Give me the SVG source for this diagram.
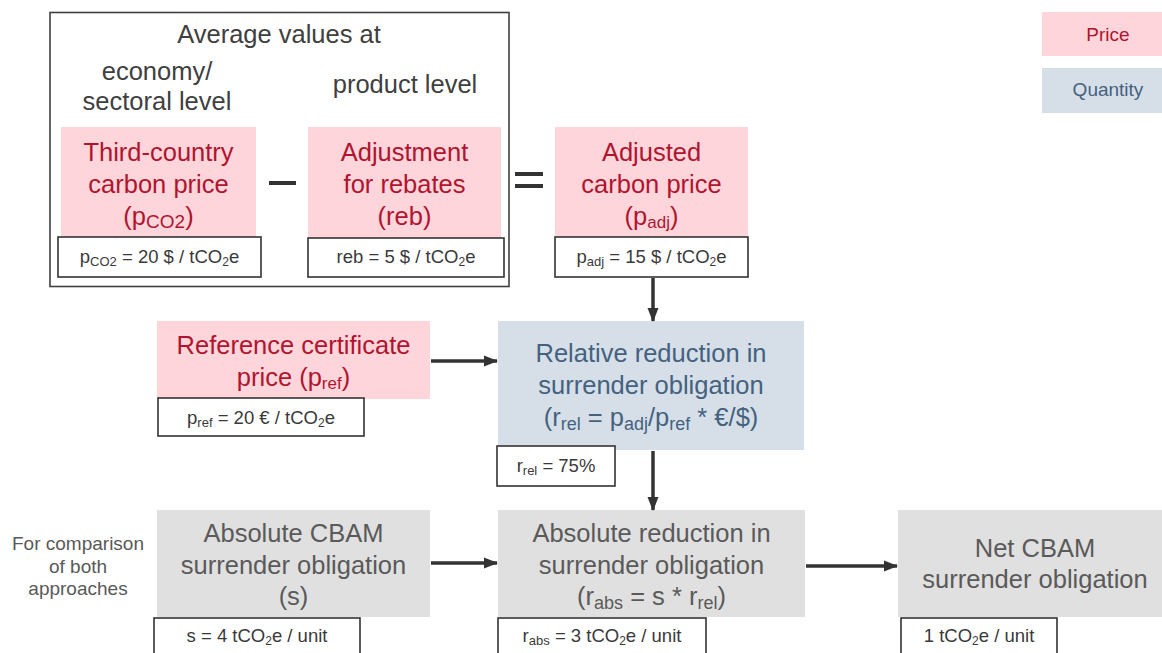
<svg xmlns="http://www.w3.org/2000/svg" width="1162" height="653" viewBox="0 0 1162 653">
<defs>
<marker id="ah" markerUnits="userSpaceOnUse" markerWidth="14" markerHeight="14" viewBox="0 0 14 14" refX="13" refY="7" orient="auto">
<path d="M0,1.5 L14,7 L0,12.5 Z" fill="#333"/>
</marker>
<style>
text{font-family:"Liberation Sans",Arial,sans-serif;text-anchor:middle}
.pink{fill:#fdd5db}
.blue{fill:#d6dfe8}
.gray{fill:#e0e0e0}
.tp{font-size:25.5px;fill:#b0142e}
.tb{font-size:25.5px;fill:#44627f}
.tg{font-size:25.5px;fill:#5a5a5a}
.val{fill:#fff;stroke:#333;stroke-width:1.6}
.tv{font-size:18.5px;fill:#3a3a3a}
.hdr{font-size:25.5px;fill:#404040}
.note{font-size:19px;fill:#595959}
.conn{stroke:#333;stroke-width:3.5;fill:none}
</style>
</defs>
<rect width="1162" height="653" fill="#fff"/>

<g id="header">
<rect x="50" y="12.5" width="459" height="274" fill="none" stroke="#404040" stroke-width="1.6"/>
<text class="hdr" x="279" y="43">Average values at</text>
<text class="hdr" x="157" y="80">economy/</text>
<text class="hdr" x="157" y="110">sectoral level</text>
<text class="hdr" x="405" y="93">product level</text>
</g>

<g id="legend">
<rect class="pink" x="1042" y="12" width="120" height="44"/>
<text x="1108" y="41" style="font-size:19px;fill:#b0142e">Price</text>
<rect class="blue" x="1042" y="68" width="120" height="45"/>
<text x="1108" y="96" style="font-size:19px;fill:#44627f">Quantity</text>
</g>

<g id="third-country">
<rect class="pink" x="61" y="127" width="195" height="110"/>
<text class="tp" x="158.5" y="161">Third-country</text>
<text class="tp" x="158.5" y="193">carbon price</text>
<text class="tp" x="158.5" y="225">(p<tspan font-size="19" dy="3">CO2</tspan><tspan dy="-3">)</tspan></text>
<rect class="val" x="58" y="237" width="203" height="40"/>
<text class="tv" x="159.5" y="263">p<tspan font-size="13" dy="3">CO2</tspan><tspan dy="-3"> = 20 $ / tCO</tspan><tspan font-size="12" dy="3">2</tspan><tspan dy="-3">e</tspan></text>
</g>

<g id="minus"><rect x="269" y="181" width="27" height="4" fill="#333"/></g>

<g id="adjustment">
<rect class="pink" x="308" y="127" width="193" height="111"/>
<text class="tp" x="404.5" y="161">Adjustment</text>
<text class="tp" x="404.5" y="193">for rebates</text>
<text class="tp" x="404.5" y="225">(reb)</text>
<rect class="val" x="308" y="238" width="196" height="39"/>
<text class="tv" x="406" y="263">reb = 5 $ / tCO<tspan font-size="12" dy="3">2</tspan><tspan dy="-3">e</tspan></text>
</g>

<g id="equals">
<rect x="515" y="172" width="28" height="4" fill="#333"/>
<rect x="515" y="184" width="28" height="4" fill="#333"/>
</g>

<g id="adjusted">
<rect class="pink" x="555" y="127" width="193" height="110"/>
<text class="tp" x="651.5" y="161">Adjusted</text>
<text class="tp" x="651.5" y="193">carbon price</text>
<text class="tp" x="651.5" y="225">(p<tspan font-size="17" dy="3">adj</tspan><tspan dy="-3">)</tspan></text>
<rect class="val" x="555" y="237" width="193" height="40"/>
<text class="tv" x="651.5" y="263">p<tspan font-size="13" dy="3">adj</tspan><tspan dy="-3"> = 15 $ / tCO</tspan><tspan font-size="12" dy="3">2</tspan><tspan dy="-3">e</tspan></text>
</g>

<g id="reference">
<rect class="pink" x="157" y="321" width="273" height="78"/>
<text class="tp" x="293.5" y="354">Reference certificate</text>
<text class="tp" x="293.5" y="386">price (p<tspan font-size="17" dy="3">ref</tspan><tspan dy="-3">)</tspan></text>
<rect class="val" x="158" y="398" width="206" height="38"/>
<text class="tv" x="261" y="424">p<tspan font-size="13" dy="3">ref</tspan><tspan dy="-3"> = 20 € / tCO</tspan><tspan font-size="12" dy="3">2</tspan><tspan dy="-3">e</tspan></text>
</g>

<g id="relative">
<rect class="blue" x="498" y="321" width="306" height="129"/>
<text class="tb" x="651" y="362">Relative reduction in</text>
<text class="tb" x="651" y="394">surrender obligation</text>
<text class="tb" x="651" y="426">(r<tspan font-size="18" dy="4">rel</tspan><tspan dy="-4"> = p</tspan><tspan font-size="18" dy="4">adj</tspan><tspan dy="-4">/p</tspan><tspan font-size="18" dy="4">ref</tspan><tspan dy="-4"> * €/$)</tspan></text>
<rect class="val" x="497" y="446" width="118" height="40"/>
<text class="tv" x="556" y="472">r<tspan font-size="13" dy="3">rel</tspan><tspan dy="-3"> = 75%</tspan></text>
</g>

<g id="absolute-cbam">
<rect class="gray" x="157" y="510" width="273" height="107"/>
<text class="tg" x="293.5" y="542">Absolute CBAM</text>
<text class="tg" x="293.5" y="574">surrender obligation</text>
<text class="tg" x="293.5" y="605">(s)</text>
<rect class="val" x="154" y="618" width="206" height="45"/>
<text class="tv" x="257" y="642">s = 4 tCO<tspan font-size="12" dy="3">2</tspan><tspan dy="-3">e / unit</tspan></text>
</g>

<g id="absolute-reduction">
<rect class="gray" x="498" y="510" width="307" height="107"/>
<text class="tg" x="651.5" y="542">Absolute reduction in</text>
<text class="tg" x="651.5" y="574">surrender obligation</text>
<text class="tg" x="651.5" y="605">(r<tspan font-size="18" dy="4">abs</tspan><tspan dy="-4"> = s * r</tspan><tspan font-size="18" dy="4">rel</tspan><tspan dy="-4">)</tspan></text>
<rect class="val" x="498" y="618" width="208" height="45"/>
<text class="tv" x="602" y="642">r<tspan font-size="13" dy="3">abs</tspan><tspan dy="-3"> = 3 tCO</tspan><tspan font-size="12" dy="3">2</tspan><tspan dy="-3">e / unit</tspan></text>
</g>

<g id="net-cbam">
<rect class="gray" x="898" y="510" width="264" height="107"/>
<text class="tg" x="1035" y="557">Net CBAM</text>
<text class="tg" x="1035" y="588">surrender obligation</text>
<rect class="val" x="901" y="618" width="156" height="45"/>
<text class="tv" x="979" y="642">1 tCO<tspan font-size="12" dy="3">2</tspan><tspan dy="-3">e / unit</tspan></text>
</g>

<g id="comparison-note">
<text class="note" x="78" y="550">For comparison</text>
<text class="note" x="78" y="573">of both</text>
<text class="note" x="78" y="595">approaches</text>
</g>

<g id="connectors">
<line class="conn" x1="653" y1="278" x2="653" y2="321" marker-end="url(#ah)"/>
<line class="conn" x1="431" y1="361" x2="497" y2="361" marker-end="url(#ah)"/>
<line class="conn" x1="653" y1="451" x2="653" y2="510" marker-end="url(#ah)"/>
<line class="conn" x1="431" y1="563" x2="497" y2="563" marker-end="url(#ah)"/>
<line class="conn" x1="806" y1="566" x2="897" y2="566" marker-end="url(#ah)"/>
</g>
</svg>
